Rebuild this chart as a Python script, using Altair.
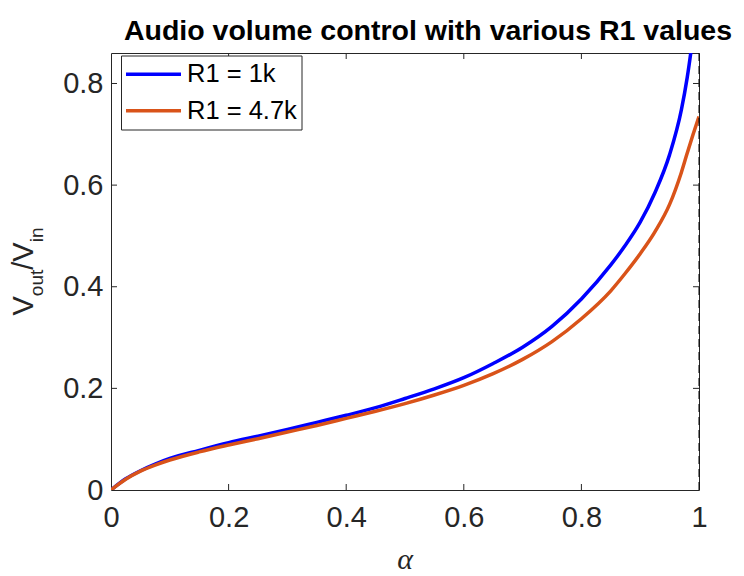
import altair as alt
import pandas as pd

# ---- data ----
alpha = [0, 0.025, 0.05, 0.075, 0.1, 0.15, 0.2, 0.25, 0.3, 0.35, 0.4, 0.45, 0.5,
         0.55, 0.6, 0.65, 0.7, 0.75, 0.8, 0.85, 0.875, 0.9, 0.925, 0.95, 0.97,
         0.98, 0.99, 1.0]
r1_1k = [0, 0.022, 0.038, 0.051, 0.062, 0.078, 0.093, 0.106, 0.119, 0.133, 0.147,
         0.162, 0.180, 0.199, 0.221, 0.249, 0.281, 0.322, 0.376, 0.443, 0.482,
         0.527, 0.585, 0.660, 0.748, 0.812, 0.895, 0.99]
r1_4k7 = [0, 0.021, 0.037, 0.049, 0.059, 0.075, 0.0885, 0.101, 0.114, 0.127, 0.141,
          0.155, 0.170, 0.187, 0.206, 0.229, 0.257, 0.292, 0.337, 0.392, 0.427,
          0.465, 0.508, 0.562, 0.625, 0.663, 0.700, 0.735]
series_names = ["R1 = 1k", "R1 = 4.7k"]
series_colors = ["#0000FF", "#D95319"]
x_ticks = [0, 0.2, 0.4, 0.6, 0.8, 1]
y_ticks = [0, 0.2, 0.4, 0.6, 0.8]
title_text = "Audio volume control with various R1 values"
x_title = "α"

W, H = 588, 437
AX = "#262626"
FONT = "Liberation Sans"

xs = alt.Scale(domain=[0, 1], nice=False, zero=False)
ys = alt.Scale(domain=[0, 0.86], nice=False, zero=False)

x_axis = alt.Axis(values=x_ticks, format="~g", labelFontSize=29, labelFont=FONT,
                  labelColor=AX, ticks=False, domain=False, grid=False,
                  labelFlush=False, labelOverlap=False,
                  labelPadding=13, title=None)
y_axis = alt.Axis(values=y_ticks, format="~g", labelFontSize=29, labelFont=FONT,
                  labelColor=AX, ticks=False, domain=False, grid=False,
                  labelFlush=False, labelOverlap=False,
                  labelPadding=8, title=None)

X = lambda f: alt.X(f, scale=xs, axis=x_axis)
Y = lambda f: alt.Y(f, scale=ys, axis=y_axis)

series = [r1_1k, r1_4k7]
layers = []
for i, (name, vals) in enumerate(zip(series_names, series)):
    df = pd.DataFrame({"alpha": alpha, "v": vals, "series": name})
    layers.append(
        alt.Chart(df).mark_line(clip=True, strokeWidth=3.5, color=series_colors[i],
                                interpolate="monotone")
        .encode(x=X("alpha:Q"), y=Y("v:Q"))
    )

# dashed line at alpha = 1
dash = alt.Chart(pd.DataFrame({"x": [1]})).mark_rule(
    color="black", strokeWidth=1, strokeDash=[8, 5]
).encode(x=X("x:Q"))

# inward ticks (box style)
tx = pd.DataFrame({"t": x_ticks[1:-1]})
ty = pd.DataFrame({"t": y_ticks[1:]})
TL = 6
tick_layers = [
    alt.Chart(tx).mark_rule(color=AX, strokeWidth=1).encode(
        x=X("t:Q"), y=alt.value(H), y2=alt.value(H - TL)),
    alt.Chart(tx).mark_rule(color=AX, strokeWidth=1).encode(
        x=X("t:Q"), y=alt.value(0), y2=alt.value(TL)),
    alt.Chart(ty).mark_rule(color=AX, strokeWidth=1).encode(
        y=Y("t:Q"), x=alt.value(0), x2=alt.value(TL)),
    alt.Chart(ty).mark_rule(color=AX, strokeWidth=1).encode(
        y=Y("t:Q"), x=alt.value(W), x2=alt.value(W - TL)),
]

one = alt.Data(values=[{"a": 1}])

def txt(text, x, y, size, **kw):
    return alt.Chart(one).mark_text(text=text, fontSize=size, **kw).encode(
        x=alt.value(x), y=alt.value(y))

# title
title_layer = txt(title_text, 317, -13, 28.5, font=FONT, fontWeight="bold",
                  color="black", align="center", baseline="alphabetic")
# x-axis title
xt_layer = txt(x_title, W / 2, 507, 30, font="Liberation Serif", fontStyle="italic",
               color=AX, align="center", baseline="middle")

# y-axis title: V_out / V_in built from rotated pieces
big, small = 29, 19
w_V = 0.667 * big
w_out = 1.39 * small
w_slV = 0.945 * big
w_in = 0.778 * small
total = w_V + w_out + w_slV + w_in
y0 = H / 2 + total / 2
bx = -78
sub = 10
pieces = [("V", bx, y0, big),
          ("out", bx + sub, y0 - w_V, small),
          ("/V", bx, y0 - w_V - w_out, big),
          ("in", bx + sub, y0 - w_V - w_out - w_slV, small)]
yt_layers = [txt(t, px, py, s, font=FONT, color=AX, angle=270, align="left",
                 baseline="alphabetic") for t, px, py, s in pieces]

# legend box
leg_layers = [
    alt.Chart(one).mark_rect(fill="white", stroke=AX, strokeWidth=1).encode(
        x=alt.value(10.5), x2=alt.value(191), y=alt.value(3), y2=alt.value(77))
]
row_y = [21.3, 57.7]
for i, name in enumerate(series_names):
    leg_layers.append(
        alt.Chart(one).mark_rule(color=series_colors[i], strokeWidth=3.5).encode(
            x=alt.value(15), x2=alt.value(70), y=alt.value(row_y[i])))
    leg_layers.append(txt(name, 76, row_y[i], 25.5, font=FONT, color="black",
                          align="left", baseline="middle"))

chart = alt.layer(
    *layers, dash, *tick_layers, title_layer, xt_layer, *yt_layers, *leg_layers
).properties(
    width=W, height=H,
    padding={"left": 103, "top": 45, "right": 37, "bottom": 86},
    autosize=alt.AutoSizeParams(type="none"),
    background="white",
).configure_view(stroke=AX, strokeWidth=1)

chart.save("out.html", embed_options={"renderer": "svg", "actions": False})
